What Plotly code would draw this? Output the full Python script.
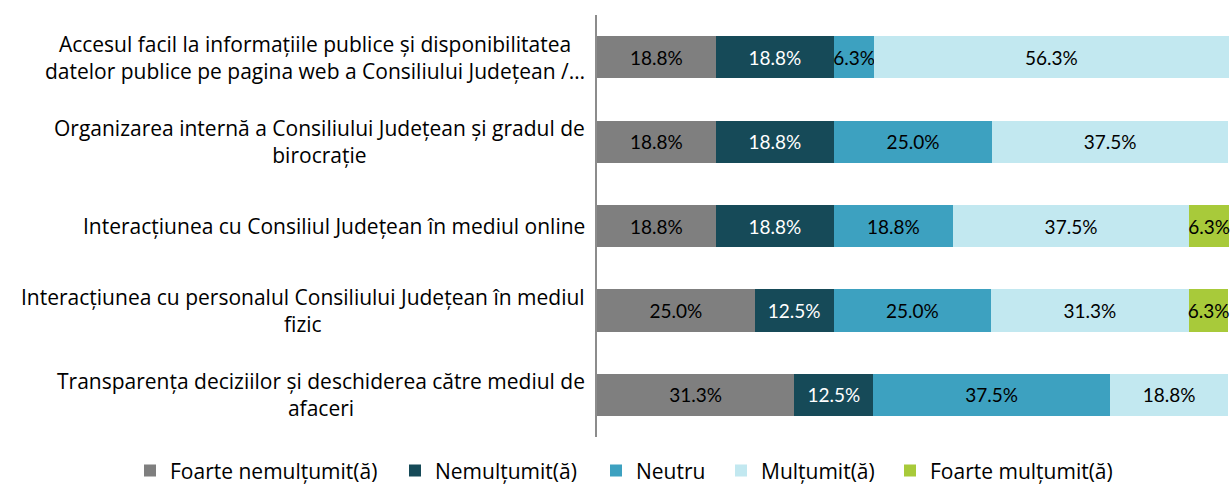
import plotly.graph_objects as go

categories = [
    "Accesul facil la informațiile publice și disponibilitatea<br>datelor publice pe pagina web a Consiliului Județean /…",
    "Organizarea internă a Consiliului Județean și gradul de<br>birocrație",
    "Interacțiunea cu Consiliul Județean în mediul online",
    "Interacțiunea cu personalul Consiliului Județean în mediul<br>fizic",
    "Transparența deciziilor și deschiderea către mediul de<br>afaceri",
]

series_names = [
    "Foarte nemulțumit(ă)",
    "Nemulțumit(ă)",
    "Neutru",
    "Mulțumit(ă)",
    "Foarte mulțumit(ă)",
]

foarte_nemultumit = [18.8, 18.8, 18.8, 25.0, 31.3]
nemultumit = [18.8, 18.8, 18.8, 12.5, 12.5]
neutru = [6.3, 25.0, 18.8, 25.0, 37.5]
multumit = [56.3, 37.5, 37.5, 31.3, 18.8]
foarte_multumit = [0.0, 0.0, 6.3, 6.3, 0.0]

series_values = [foarte_nemultumit, nemultumit, neutru, multumit, foarte_multumit]
colors = ["#7F7F7F", "#164A58", "#3DA1C0", "#C2E8F0", "#A8CA3A"]
text_colors = ["#000000", "#FFFFFF", "#000000", "#000000", "#000000"]

LABEL_FONT = "Open Sans"
BAR_FONT = "Lato"
LABEL_FS = 21
BAR_FS = 19

W, H = 1232, 487
M_L, M_R, M_T, M_B = 597, 3, 15, 50
PLOT_W = W - M_L - M_R

# left edge (px) of each legend entry, one entry per legend box
legend_left_px = [130, 395, 596, 721, 890]
legend_ids = ["legend", "legend2", "legend3", "legend4", "legend5"]

fig = go.Figure()
for name, vals, col, tcol, lid in zip(series_names, series_values, colors, text_colors, legend_ids):
    fig.add_trace(go.Bar(
        y=list(range(len(categories))),
        x=vals,
        name=name,
        orientation="h",
        marker=dict(color=col, line=dict(width=0)),
        text=[f"{v:.1f}%" if v else "" for v in vals],
        textposition="inside",
        insidetextanchor="middle",
        textangle=0,
        insidetextfont=dict(color=tcol, size=BAR_FS, family=BAR_FONT),
        cliponaxis=False,
        hoverinfo="skip",
        legend=lid,
    ))

# category labels, centred lines to the left of the axis
for i, cat in enumerate(categories):
    fig.add_annotation(
        x=0, xref="paper", xanchor="right", xshift=-10,
        y=i, yref="y", yanchor="middle",
        text=cat, showarrow=False, align="center",
        font=dict(size=LABEL_FS, color="#000000", family=LABEL_FONT),
    )

legend_layout = {}
for lid, left in zip(legend_ids, legend_left_px):
    legend_layout[lid] = dict(
        orientation="h",
        x=(left - M_L) / PLOT_W, xanchor="left",
        y=-0.08, yanchor="middle",
        font=dict(size=LABEL_FS, family=LABEL_FONT, color="#000000"),
        itemwidth=30,
        bgcolor="rgba(0,0,0,0)",
    )

fig.update_layout(
    barmode="stack",
    bargap=0.5,
    width=W, height=H,
    margin=dict(l=M_L, r=M_R, t=M_T, b=M_B, autoexpand=False),
    paper_bgcolor="white",
    plot_bgcolor="white",
    font=dict(family=LABEL_FONT, size=LABEL_FS, color="#000000"),
    uniformtext=dict(minsize=BAR_FS, mode="show"),
    showlegend=True,
    xaxis=dict(
        range=[0, 100.2], showgrid=False, zeroline=False,
        showticklabels=False, showline=False, fixedrange=True,
    ),
    yaxis=dict(
        range=[4.5, -0.5], showgrid=False, zeroline=False,
        showticklabels=False, showline=True, linecolor="#8C8C8C", linewidth=1.5,
        ticks="", fixedrange=True,
    ),
    **legend_layout,
)

fig.write_html("out.html")
